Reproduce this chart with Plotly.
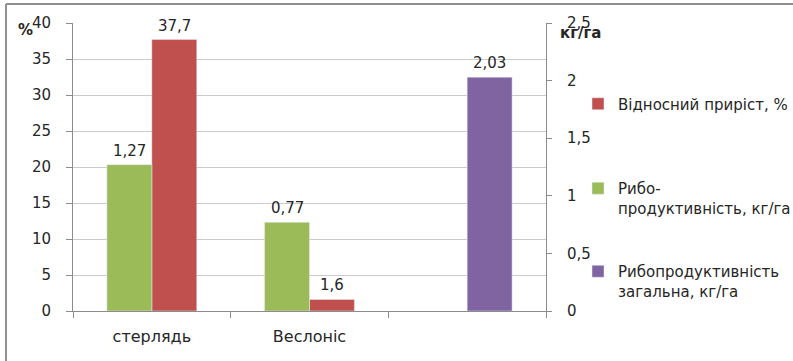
import plotly.graph_objects as go

# Categories (third group carries only the total productivity bar)
categories = ["стерлядь", "Веслоніс", " "]

# Series values
growth_pct = [37.7, 1.6, None]          # Відносний приріст, %  (left axis)
fish_prod = [1.27, 0.77, None]          # Рибопродуктивність, кг/га  (right axis)
fish_prod_total = [None, None, 2.03]    # Рибопродуктивність загальна, кг/га  (right axis)

# Axis ticks
left_ticks = [0, 5, 10, 15, 20, 25, 30, 35, 40]
right_ticks = [0, 0.5, 1, 1.5, 2, 2.5]

W, H = 793, 361
ML, MR, MT, MB = 73, 247, 23, 50
PW, PH = W - ML - MR, H - MT - MB


def px_x(px):
    return (px - ML) / PW


def px_y(py):
    return (H - MB - py) / PH


def fmt(v):
    return str(v).replace(".", ",")


FONT = "DejaVu Sans"
TXT = "#262626"
AXIS = "#8c8c8c"
GRID = "#cacaca"
BW = 0.285

series = [
    # (values, name, colour, offset, axis, legend)
    (fish_prod, "Рибо-<br>продуктивність, кг/га", "#9BBB59", -BW, "y2", "legend2"),
    (growth_pct, "Відносний приріст, %", "#C0504D", 0, "y", "legend"),
    (fish_prod_total, "Рибопродуктивність<br>загальна, кг/га", "#8064A2", 0, "y2", "legend3"),
]

fig = go.Figure()
value_labels = []
for vals, name, color, off, yax, leg in series:
    fig.add_trace(go.Bar(
        x=categories, y=vals, name=name, marker_color=color,
        width=BW, offset=off, yaxis=yax, legend=leg,
    ))
    # value label above each bar
    for i, v in enumerate(vals):
        if v is None:
            continue
        value_labels.append(dict(
            text=fmt(v), x=i + off + BW / 2, y=v, xref="x",
            yref=yax, showarrow=False, xanchor="center", yanchor="middle",
            yshift=14, font=dict(size=15, color=TXT, family=FONT),
        ))

legend_common = dict(
    xref="container", yref="container",
    xanchor="left", yanchor="middle", valign="top",
    font=dict(size=15, color=TXT, family=FONT),
    bgcolor="rgba(0,0,0,0)", itemclick=False, itemdoubleclick=False,
)

fig.update_layout(
    width=W, height=H,
    margin=dict(l=ML, r=MR, t=MT, b=MB, pad=0, autoexpand=False),
    paper_bgcolor="white", plot_bgcolor="white",
    separators=", ",
    barmode="overlay",
    font=dict(family=FONT, size=15, color=TXT),
    xaxis=dict(
        type="category", categoryorder="array", categoryarray=categories,
        range=[-0.5, 2.5], showline=True, linecolor=AXIS, linewidth=1,
        ticks="outside", tickson="boundaries", ticklen=6, tickcolor=AXIS,
        showgrid=False, tickfont=dict(size=16, color=TXT), automargin=False,
        ticklabelstandoff=11,
    ),
    yaxis=dict(
        range=[0, 40], tickvals=left_ticks, showline=True, linecolor=AXIS,
        ticks="outside", ticklen=6, tickcolor=AXIS, showgrid=True,
        gridcolor=GRID, gridwidth=1, zeroline=False, automargin=False,
        tickfont=dict(size=15, color=TXT), ticklabelstandoff=12,
    ),
    yaxis2=dict(
        range=[0, 2.5], tickvals=right_ticks, overlaying="y", side="right",
        showline=True, linecolor=AXIS, ticks="outside", ticklen=5,
        tickcolor=AXIS, showgrid=False, zeroline=False, automargin=False,
        tickfont=dict(size=15, color=TXT), ticklabelstandoff=12,
    ),
    showlegend=True,
    legend=dict(x=578 / W, y=1 - 104 / H, **legend_common),
    legend2=dict(x=578 / W, y=1 - 198 / H, **legend_common),
    legend3=dict(x=578 / W, y=1 - 281 / H, **legend_common),
    annotations=value_labels + [
        dict(text="<b>%</b>", x=px_x(25), y=px_y(30), xref="paper", yref="paper",
             xanchor="center", yanchor="middle", showarrow=False,
             font=dict(size=15, color=TXT)),
        dict(text="<b>кг/га</b>", x=px_x(580), y=px_y(33), xref="paper", yref="paper",
             xanchor="center", yanchor="middle", showarrow=False,
             font=dict(size=15, color=TXT)),
    ],
    shapes=[
        # chart frame (left and top edges)
        dict(type="line", xref="paper", yref="paper", x0=px_x(6), x1=px_x(6),
             y0=px_y(4), y1=px_y(365), line=dict(color="#909090", width=2)),
        dict(type="line", xref="paper", yref="paper", x0=px_x(6), x1=px_x(800),
             y0=px_y(4), y1=px_y(4), line=dict(color="#909090", width=2)),
    ],
)

fig.write_html("out.html")
